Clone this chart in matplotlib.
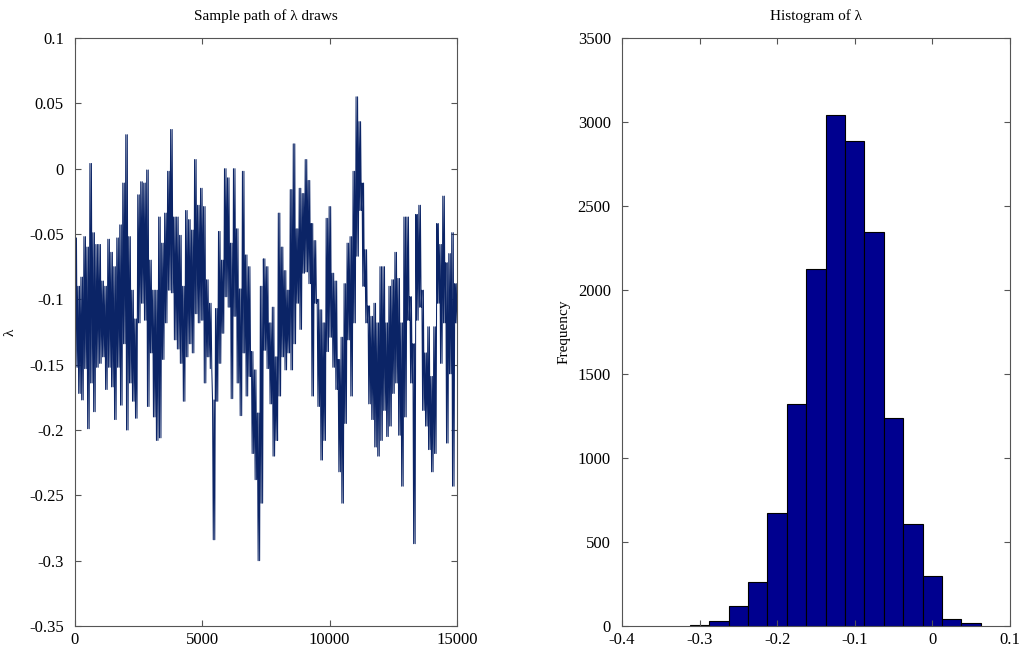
import numpy as np
import matplotlib
matplotlib.use("Agg")
from matplotlib import pyplot as plt
from matplotlib.ticker import FuncFormatter

# per-bin extremes of the lambda trace (128 bins over 15000 draws)
lam_hi = [
    -0.053, -0.090, -0.083, -0.052, -0.060, 0.004, -0.049, -0.058, -0.058, -0.086,
    -0.090, -0.054, -0.064, -0.075, -0.053, -0.043, -0.011, 0.026, -0.052, -0.093,
    -0.115, -0.020, -0.010, -0.011, -0.001, -0.070, -0.093, -0.093, -0.037, -0.057,
    -0.034, -0.002, 0.030, -0.037, -0.037, -0.051, -0.090, -0.032, -0.039, -0.047,
    0.007, -0.028, -0.015, -0.029, -0.085, -0.103, -0.177, -0.107, -0.048, -0.070,
    0.000, -0.007, -0.057, 0.000, -0.046, -0.092, -0.002, -0.066, -0.075, -0.140,
    -0.154, -0.187, -0.090, -0.069, -0.075, -0.118, -0.106, -0.144, -0.034, -0.060,
    -0.078, -0.093, -0.016, 0.019, -0.046, -0.015, -0.019, 0.007, -0.009, -0.042,
    -0.055, -0.100, -0.108, -0.118, -0.038, -0.029, -0.080, -0.086, -0.146, -0.129,
    -0.088, -0.057, -0.052, -0.002, 0.055, 0.036, -0.011, -0.062, -0.105, -0.113,
    -0.103, -0.118, -0.075, -0.075, -0.118, -0.090, -0.085, -0.064, -0.084, -0.118,
    -0.037, -0.037, -0.098, -0.134, -0.035, -0.028, -0.093, -0.141, -0.121, -0.159,
    -0.121, -0.042, -0.058, -0.021, -0.072, -0.065, -0.049, -0.088,
]
lam_lo = [
    -0.152, -0.172, -0.177, -0.153, -0.199, -0.164, -0.186, -0.152, -0.149, -0.144,
    -0.169, -0.152, -0.167, -0.192, -0.152, -0.181, -0.134, -0.200, -0.164, -0.178,
    -0.191, -0.118, -0.103, -0.116, -0.182, -0.141, -0.190, -0.208, -0.206, -0.146,
    -0.118, -0.093, -0.095, -0.131, -0.138, -0.149, -0.178, -0.144, -0.134, -0.141,
    -0.111, -0.118, -0.116, -0.164, -0.144, -0.153, -0.284, -0.178, -0.149, -0.126,
    -0.098, -0.106, -0.176, -0.113, -0.164, -0.189, -0.141, -0.174, -0.159, -0.218,
    -0.238, -0.300, -0.256, -0.139, -0.153, -0.180, -0.220, -0.208, -0.174, -0.144,
    -0.154, -0.141, -0.154, -0.134, -0.103, -0.123, -0.080, -0.079, -0.088, -0.174,
    -0.103, -0.182, -0.223, -0.208, -0.140, -0.129, -0.152, -0.169, -0.232, -0.256,
    -0.195, -0.131, -0.174, -0.118, -0.067, -0.032, -0.090, -0.118, -0.180, -0.192,
    -0.213, -0.220, -0.208, -0.185, -0.205, -0.197, -0.172, -0.164, -0.204, -0.243,
    -0.190, -0.116, -0.164, -0.287, -0.116, -0.106, -0.185, -0.197, -0.215, -0.232,
    -0.218, -0.103, -0.149, -0.118, -0.210, -0.157, -0.243, -0.118,
]
n_draws = 15000

# histogram of the draws
hist_left = -0.3125
hist_width = 0.025
hist_counts = [6, 27, 121, 262, 675, 1323, 2127, 3041, 2885, 2348, 1237, 605, 297, 41, 16]

plt.rcParams["font.family"] = ["Liberation Serif", "DejaVu Serif"]
plt.rcParams["font.size"] = 11
plt.rcParams["axes.unicode_minus"] = False

fig = plt.figure(figsize=(10.24, 6.51), dpi=100)
ax1 = fig.add_axes([0.0732, 0.0384, 0.3731, 0.9032])
ax2 = fig.add_axes([0.6074, 0.0384, 0.3789, 0.9032])

# trace: sweep twice between each bin's high and low so the band fills in
sweeps = 2
pairs = np.column_stack([lam_hi, lam_lo])
path = np.tile(pairs, (1, sweeps)).ravel()
iters = np.linspace(0, n_draws, len(path))
ax1.plot(iters, path, color="#0b2466", lw=0.75)
ax1.set_xlim(0, n_draws)
ax1.set_ylim(-0.35, 0.1)
ax1.set_xticks([0, 5000, 10000, 15000])
ax1.set_yticks(np.arange(-0.35, 0.1001, 0.05))
ax1.set_title("Sample path of λ draws", fontsize=11, pad=13)
ax1.set_ylabel("λ", labelpad=9)

edges = hist_left + hist_width * np.arange(len(hist_counts))
ax2.bar(edges, hist_counts, width=hist_width, align="edge",
        color="#00008f", edgecolor="black", linewidth=0.8)
ax2.set_xlim(-0.4, 0.1)
ax2.set_ylim(0, 3500)
ax2.set_xticks(np.arange(-0.4, 0.1001, 0.1))
ax2.set_yticks(np.arange(0, 3501, 500))
ax2.set_title("Histogram of λ", fontsize=11, pad=13)
ax2.set_ylabel("Frequency", labelpad=5)


def tick_text(v, _):
    v = round(v, 4)
    if v == 0:
        return "0"
    return "%g" % v


fmt = FuncFormatter(tick_text)
for ax in (ax1, ax2):
    ax.xaxis.set_major_formatter(fmt)
    ax.yaxis.set_major_formatter(fmt)
    ax.tick_params(direction="in", length=4, width=0.8, color="#555555",
                   top=True, right=True, labelsize=12)
    ax.tick_params(axis="x", pad=4)
    ax.tick_params(axis="y", pad=8)
    for sp in ax.spines.values():
        sp.set_color("#555555")
        sp.set_linewidth(0.8)

fig.savefig("out.png", dpi=100)
